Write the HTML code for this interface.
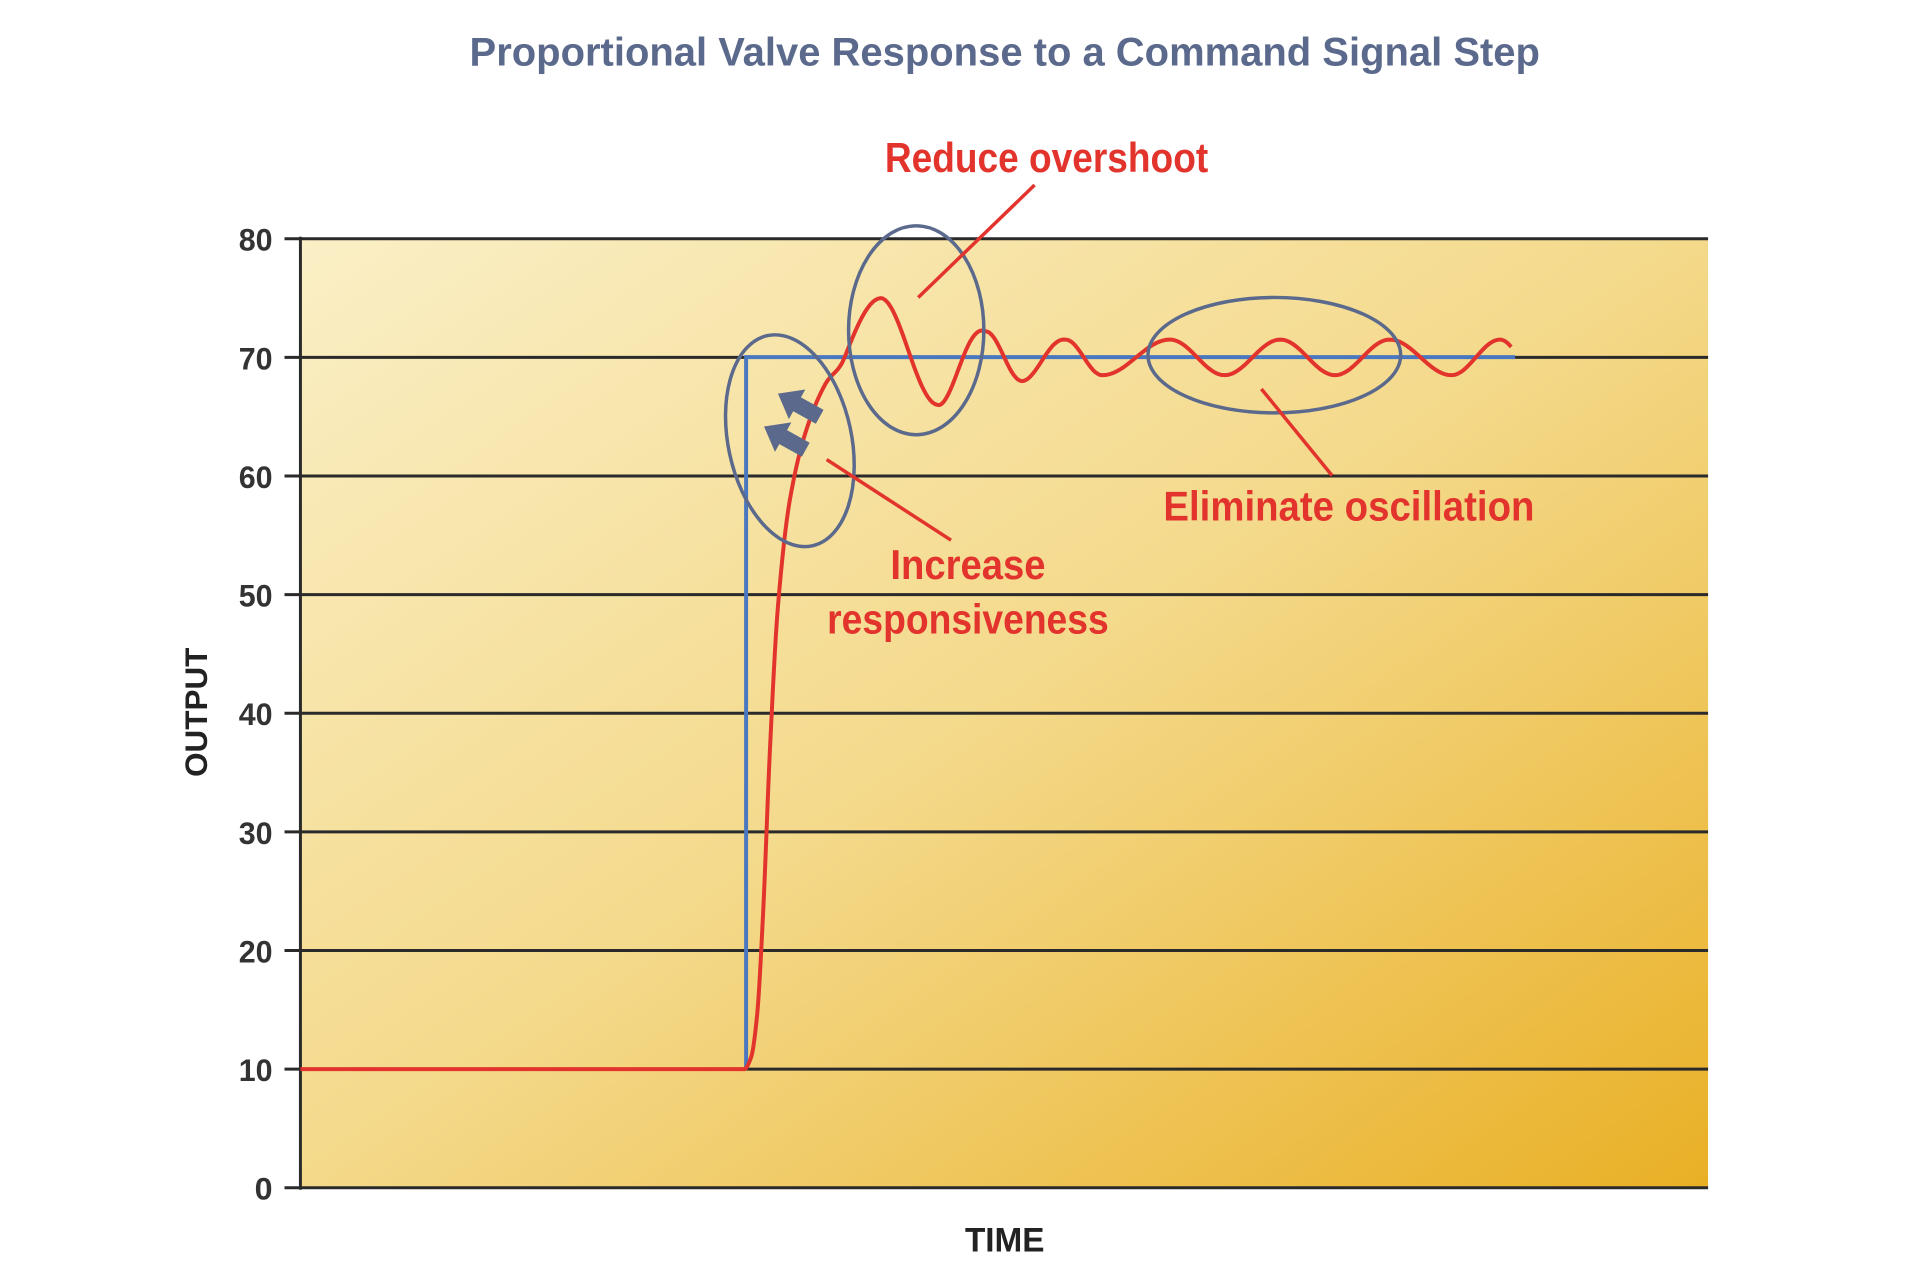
<!DOCTYPE html>
<html><head><meta charset="utf-8"><style>
html,body{margin:0;padding:0;background:#fff;}
svg{display:block}
text{font-family:"Liberation Sans Narrow","Liberation Sans",sans-serif;font-weight:bold}
</style></head><body>
<svg id="s" width="1920" height="1279" viewBox="0 0 1920 1279" xmlns="http://www.w3.org/2000/svg">
<defs>
<linearGradient id="bg" x1="0" y1="0" x2="1" y2="1">
<stop offset="0" stop-color="#faefc6"/>
<stop offset="0.5" stop-color="#f4d98a"/>
<stop offset="1" stop-color="#e9b025"/>
</linearGradient>
</defs>
<g transform="scale(0.9948)">
<text x="1010" y="66" text-anchor="middle" font-size="40" fill="#5b6a8c" textLength="1076" lengthAdjust="spacingAndGlyphs">Proportional Valve Response to a Command Signal Step</text>
<rect x="302" y="240" width="1415" height="954" fill="url(#bg)"/>
<g id="grid" stroke="#2a2a2a" stroke-width="3"></g>
<g id="ticks" font-size="32" fill="#333" text-anchor="end"></g>
<line x1="302" y1="238" x2="302" y2="1196" stroke="#2a2a2a" stroke-width="3"/>
<text transform="translate(208,716) rotate(-90)" text-anchor="middle" font-size="32" fill="#222" textLength="130" lengthAdjust="spacingAndGlyphs">OUTPUT</text>
<text x="1010" y="1258" text-anchor="middle" font-size="34" fill="#222" textLength="80" lengthAdjust="spacingAndGlyphs">TIME</text>
<polyline points="750,1075 750,359 1523,359" fill="none" stroke="#4a78c0" stroke-width="4"/>
<path id="red" fill="none" stroke="#e2342c" stroke-width="4" stroke-linejoin="round"/>
<g fill="none" stroke="#5b6a8c" stroke-width="3.5">
<ellipse cx="794" cy="443" rx="62" ry="108" transform="rotate(-12 794 443)"/>
<ellipse cx="921" cy="332" rx="68" ry="105"/>
<ellipse cx="1281" cy="357" rx="127" ry="58"/>
</g>
<g fill="#5b6a8c">
<polygon points="0,-8 26,-8 26,-17 48,0 26,17 26,8 0,8" transform="translate(824,419) rotate(-151)"/>
<polygon points="0,-8 26,-8 26,-17 48,0 26,17 26,8 0,8" transform="translate(810,452) rotate(-151)"/>
</g>
<g stroke="#e2342c" stroke-width="3.5">
<line x1="923" y1="299" x2="1040" y2="186"/>
<line x1="831" y1="462" x2="956" y2="543"/>
<line x1="1268" y1="391" x2="1339" y2="478"/>
</g>
<g font-size="42" fill="#e2342c" text-anchor="middle">
<text x="1052" y="173" textLength="325" lengthAdjust="spacingAndGlyphs">Reduce overshoot</text>
<text x="973" y="582" textLength="156" lengthAdjust="spacingAndGlyphs">Increase</text>
<text x="973" y="637" textLength="283" lengthAdjust="spacingAndGlyphs">responsiveness</text>
<text x="1356" y="523" textLength="373" lengthAdjust="spacingAndGlyphs">Eliminate oscillation</text>
</g>
</g>
</svg>
<script>
var NS="http://www.w3.org/2000/svg";
function Y(v){return 1194-v*954/80;}
var g=document.getElementById('grid'),t=document.getElementById('ticks');
for(var v=0;v<=80;v+=10){
 var y=Y(v);
 var l=document.createElementNS(NS,'line');
 l.setAttribute('x1',286);l.setAttribute('x2',1717);l.setAttribute('y1',y);l.setAttribute('y2',y);g.appendChild(l);
 var tx=document.createElementNS(NS,'text');tx.setAttribute('x',274);tx.setAttribute('y',y+12);
 tx.setAttribute('textLength',v<10?18:34);tx.setAttribute('lengthAdjust','spacingAndGlyphs');
 tx.textContent=v;t.appendChild(tx);
}
// monotone cubic (PCHIP) for the rise
var k=[[748,10],[755,11],[761,14.5],[767,23],[774,37],[782,49],[794,58],[811,64],[830,67.8],[849,70]];
var n=k.length,sec=[],m=[];
for(var i=0;i<n-1;i++)sec.push((k[i+1][1]-k[i][1])/(k[i+1][0]-k[i][0]));
m[0]=0;m[n-1]=0.21;
for(var i=1;i<n-1;i++){var a=sec[i-1],b=sec[i];m[i]=(a*b<=0)?0:2*a*b/(a+b);}
var d="M302,"+Y(10)+" L748,"+Y(10);
for(var i=0;i<n-1;i++){
 var x0=k[i][0],x1=k[i+1][0],h=x1-x0;
 for(var j=1;j<=8;j++){
  var s=j/8,h00=2*s*s*s-3*s*s+1,h10=s*s*s-2*s*s+s,h01=-2*s*s*s+3*s*s,h11=s*s*s-s*s;
  var vv=h00*k[i][1]+h10*h*m[i]+h01*k[i+1][1]+h11*h*m[i+1];
  d+=" L"+(x0+s*h).toFixed(2)+","+Y(vv).toFixed(2);
 }
}
var PI=Math.PI;
var ph=[[849,-PI/2],[886,0],[945,PI],[991,2*PI],[1028,3*PI],[1071,4*PI],[1108,5*PI],[1176,6*PI],[1231,7*PI],[1287,8*PI],[1342,9*PI],[1397,10*PI],[1459,11*PI],[1508,12*PI],[1530,12.6*PI]];
var am=[[849,5],[886,5],[945,4],[991,2.2],[1028,2],[1071,1.5],[1530,1.5]];
function interp(a,x){for(var i=0;i<a.length-1;i++){if(x<=a[i+1][0]){var f=(x-a[i][0])/(a[i+1][0]-a[i][0]);return a[i][1]+f*(a[i+1][1]-a[i][1]);}}return a[a.length-1][1];}
for(var x=851;x<=1520;x+=2){
 var vv=70+interp(am,x)*Math.cos(interp(ph,x));
 d+=" L"+x+","+Y(vv).toFixed(1);
}
document.getElementById('red').setAttribute('d',d);
</script>
</body></html>
